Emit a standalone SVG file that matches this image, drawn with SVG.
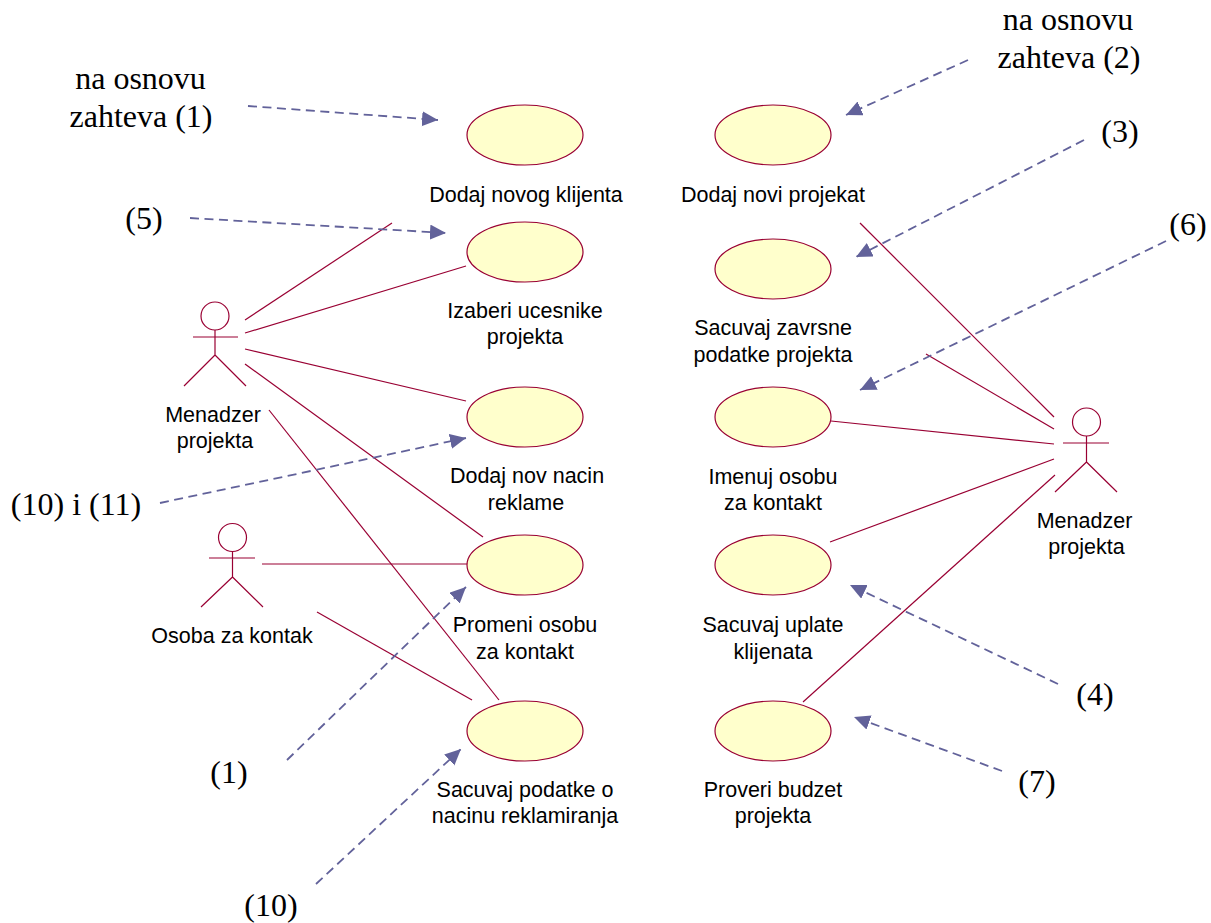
<svg xmlns="http://www.w3.org/2000/svg" width="1211" height="923" viewBox="0 0 1211 923">
<defs>
<marker id="a" markerUnits="userSpaceOnUse" markerWidth="18" markerHeight="16" refX="16" refY="7.500" orient="auto"><path d="M0 0L16 7.500L0 15Z" fill="#62629a"/></marker>
</defs>
<style>
.u{fill:#ffffcc;stroke:#990033;stroke-width:1.2}
.l{font:21.500px "Liberation Sans",Arial,sans-serif;fill:#000;text-anchor:middle}
.n{font:32px "Liberation Serif","Times New Roman",serif;fill:#000;text-anchor:middle}
.c line{stroke:#990033;stroke-width:1.2;fill:none}
.d line{stroke:#62629a;stroke-width:1.800;stroke-dasharray:9 5.500;marker-end:url(#a)}
.s{fill:none;stroke:#990033;stroke-width:1.2}
</style>
<rect width="1211" height="923" fill="#fff"/>
<g id="connectors" class="c">
<line x1="245" y1="320" x2="392" y2="223"/><line x1="245" y1="333" x2="466" y2="266"/><line x1="245" y1="349" x2="466" y2="401"/><line x1="245" y1="364" x2="483" y2="537"/><line x1="269" y1="410" x2="499" y2="700"/><line x1="262" y1="564" x2="468" y2="564"/><line x1="317" y1="612" x2="472" y2="700"/>
<line x1="860" y1="223" x2="1054" y2="417"/><line x1="926" y1="354" x2="1054" y2="429"/><line x1="831" y1="421" x2="1054" y2="444"/><line x1="830" y1="542" x2="1054" y2="459"/><line x1="803" y1="702" x2="1055" y2="475"/>
</g>
<g id="notes" class="d">
<line x1="248" y1="106" x2="438" y2="120"/><line x1="968" y1="60" x2="846" y2="115"/><line x1="1084" y1="140" x2="856" y2="257"/><line x1="190" y1="218" x2="446" y2="233"/><line x1="1166" y1="241" x2="860" y2="390"/><line x1="160" y1="503" x2="466" y2="438"/><line x1="1058" y1="684" x2="850" y2="585"/><line x1="1002" y1="771" x2="854" y2="717"/><line x1="287" y1="760" x2="466" y2="587"/><line x1="316" y1="884" x2="461" y2="749"/>
</g>
<g id="u1"><ellipse class="u" cx="525" cy="135" rx="58" ry="30"/><text class="l" x="526" y="202">Dodaj novog klijenta</text></g>
<g id="u2"><ellipse class="u" cx="525" cy="252" rx="58" ry="30"/><text class="l" x="525" y="318">Izaberi ucesnike</text><text class="l" x="525" y="344">projekta</text></g>
<g id="u3"><ellipse class="u" cx="525" cy="417" rx="58" ry="30"/><text class="l" x="527" y="483">Dodaj nov nacin</text><text class="l" x="526" y="510">reklame</text></g>
<g id="u4"><ellipse class="u" cx="525" cy="565" rx="58" ry="30"/><text class="l" x="525" y="632">Promeni osobu</text><text class="l" x="525" y="659">za kontakt</text></g>
<g id="u5"><ellipse class="u" cx="525" cy="731" rx="58" ry="30"/><text class="l" x="525" y="797">Sacuvaj podatke o</text><text class="l" x="525" y="823">nacinu reklamiranja</text></g>
<g id="u6"><ellipse class="u" cx="773" cy="135" rx="58" ry="30"/><text class="l" x="773" y="202">Dodaj novi projekat</text></g>
<g id="u7"><ellipse class="u" cx="773" cy="269" rx="58" ry="30"/><text class="l" x="773" y="335">Sacuvaj zavrsne</text><text class="l" x="773" y="362">podatke projekta</text></g>
<g id="u8"><ellipse class="u" cx="773" cy="417" rx="58" ry="30"/><text class="l" x="773" y="484">Imenuj osobu</text><text class="l" x="773" y="510">za kontakt</text></g>
<g id="u9"><ellipse class="u" cx="773" cy="565" rx="58" ry="30"/><text class="l" x="773" y="632">Sacuvaj uplate</text><text class="l" x="773" y="659">klijenata</text></g>
<g id="u10"><ellipse class="u" cx="773" cy="731" rx="58" ry="30"/><text class="l" x="773" y="797">Proveri budzet</text><text class="l" x="773" y="823">projekta</text></g>
<g id="a1"><circle class="s" cx="215" cy="316" r="14"/><path class="s" d="M215 330V355M193 337H238M215 355L184 386M215 355L246 386"/><text class="l" x="213" y="422">Menadzer</text><text class="l" x="215" y="448">projekta</text></g>
<g id="a2"><circle class="s" cx="232.500" cy="537.500" r="14"/><path class="s" d="M232.500 551.500V577M209 558H255M232.500 577L201 607M232.500 577L263 607"/><text class="l" x="232" y="643">Osoba za kontak</text></g>
<g id="a3"><circle class="s" cx="1086.500" cy="422" r="14"/><path class="s" d="M1086.500 436V462M1063 443H1109M1086.500 462L1055 492M1086.500 462L1117 492"/><text class="l" x="1084.500" y="528">Menadzer</text><text class="l" x="1086.500" y="554">projekta</text></g>
<g id="t1"><text class="n" x="140.500" y="89">na osnovu</text><text class="n" x="141" y="127">zahteva (1)</text></g>
<g id="t2"><text class="n" x="1068" y="30">na osnovu</text><text class="n" x="1069" y="68">zahteva (2)</text></g>
<text class="n" x="1120" y="142">(3)</text><text class="n" x="1188" y="235">(6)</text><text class="n" x="144" y="229">(5)</text><text class="n" x="76" y="515">(10) i (11)</text><text class="n" x="1095" y="705">(4)</text><text class="n" x="1037" y="792">(7)</text><text class="n" x="229" y="783">(1)</text><text class="n" x="271" y="916">(10)</text>
</svg>
